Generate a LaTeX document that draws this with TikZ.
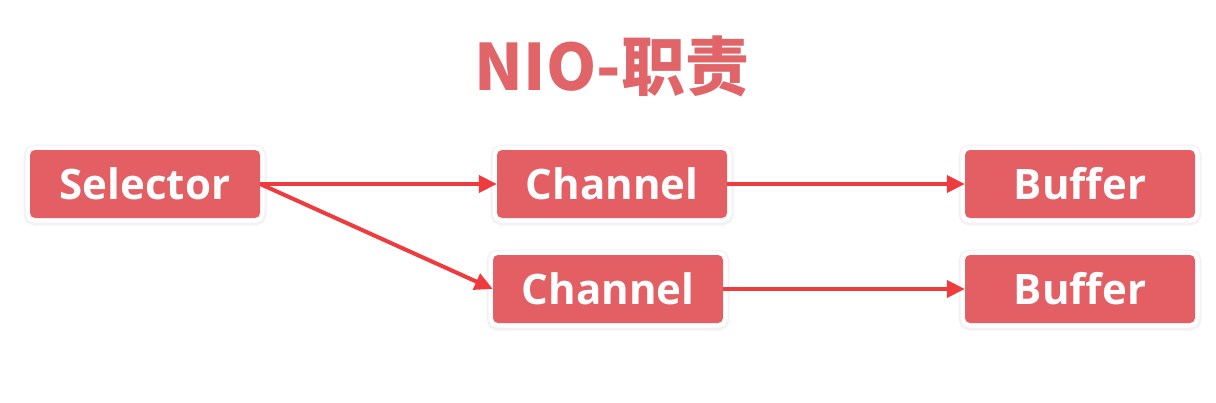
\documentclass[tikz,border=0pt]{standalone}
\usepackage{fontspec}
\setmainfont{Open Sans}
\newfontfamily\cjkfont{Noto Sans CJK SC}
\usetikzlibrary{arrows.meta,shadows}
\definecolor{boxred}{HTML}{E35F64}
\definecolor{titlered}{HTML}{E06468}
\definecolor{arrred}{HTML}{EE3B3D}
\tikzset{
  box/.style={rounded corners=5pt, fill=boxred, text=white,
    minimum width=230pt, minimum height=68pt, inner sep=0pt,
    font=\bfseries\fontsize{42}{50}\selectfont,
    preaction={draw=black!5, line width=13pt, transform canvas={yshift=-1pt}},
    preaction={draw=white, line width=9pt}},
  conn/.style={draw=arrred, line width=4pt,
    -{Triangle[length=18pt,width=17pt]}}
}
\begin{document}
\begin{tikzpicture}[x=1pt,y=-1pt]
\useasboundingbox[fill=white] (0,0) rectangle (1216,402);
\node[text=titlered, font=\cjkfont\bfseries\fontsize{64}{72}\selectfont] (title) at (612,66) {NIO-职责};
\node[box] (sel) at (145,184) {Selector};
\node[box] (ch1) at (612,184) {Channel};
\node[box] (ch2) at (608,289) {Channel};
\node[box] (buf1) at (1080,184) {Buffer};
\node[box] (buf2) at (1080,289) {Buffer};
\draw[conn] (sel.east) -- (ch1.west);
\draw[conn] (sel.east) -- (ch2.west);
\draw[conn] (ch1.east) -- (buf1.west);
\draw[conn] (ch2.east) -- (buf2.west);
\end{tikzpicture}
\end{document}
